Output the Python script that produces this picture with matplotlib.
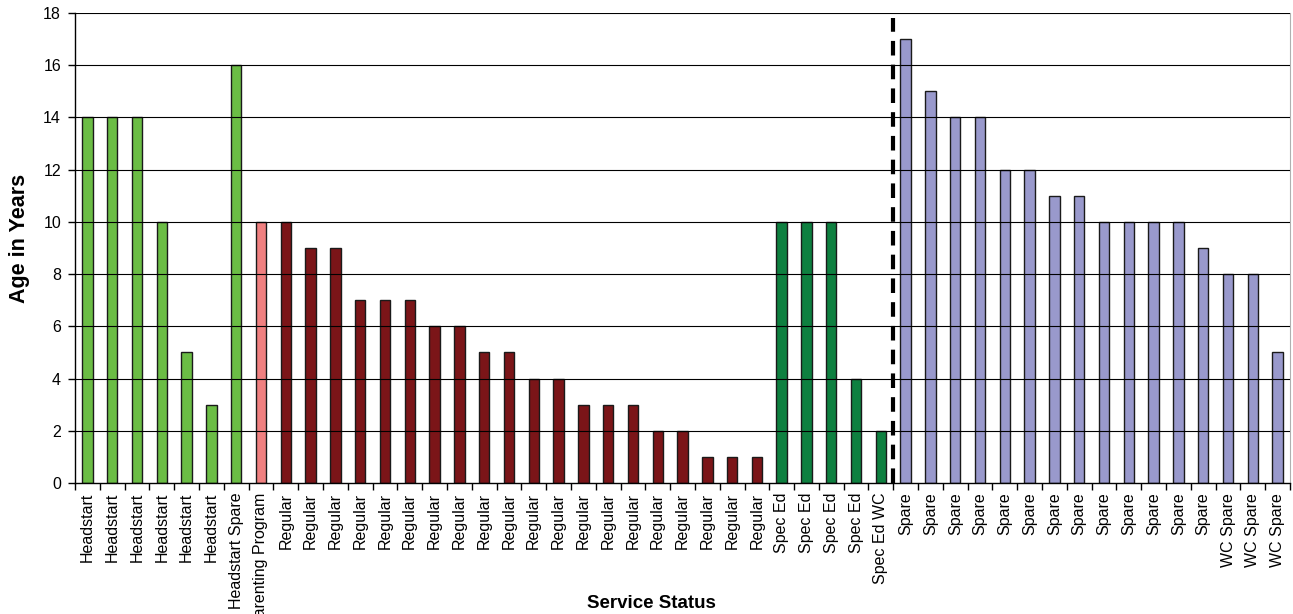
import matplotlib
import matplotlib.pyplot as plt
import numpy as np

matplotlib.use("Agg")

# Bus fleet ages by service status
categories = (
    ["Headstart"] * 6
    + ["Headstart Spare", "Parenting Program"]
    + ["Regular"] * 20
    + ["Spec Ed"] * 4
    + ["Spec Ed WC"]
    + ["Spare"] * 13
    + ["WC Spare"] * 3
)
ages = [
    14, 14, 14, 10, 5, 3,
    16, 10,
    10, 9, 9, 7, 7, 7, 6, 6, 5, 5, 4, 4, 3, 3, 3, 2, 2, 1, 1, 1,
    10, 10, 10, 4,
    2,
    17, 15, 14, 14, 12, 12, 11, 11, 10, 10, 10, 10, 9,
    8, 8, 5,
]
y_ticks = [0, 2, 4, 6, 8, 10, 12, 14, 16, 18]

group_colors = {
    "Headstart": "#6BBD45",
    "Headstart Spare": "#6BBD45",
    "Parenting Program": "#F08080",
    "Regular": "#7B1518",
    "Spec Ed": "#0E8040",
    "Spec Ed WC": "#0E8040",
    "Spare": "#9999CC",
    "WC Spare": "#9999CC",
}
colors = [group_colors[c] for c in categories]

narrow = ["Liberation Sans Narrow", "Liberation Sans", "DejaVu Sans"]
plt.rcParams["font.family"] = ["Liberation Sans", "DejaVu Sans"]

fig = plt.figure(figsize=(12.93, 6.14), dpi=100)
ax = fig.add_axes([0.058, 0.2134, 0.9397, 0.7654])

x = np.arange(len(ages))
ax.bar(x, ages, width=0.42, color=colors, edgecolor="#1a1a1a", linewidth=1.0, zorder=2)

# horizontal gridlines drawn across the bars, as in the source
for yv in y_ticks[1:]:
    ax.axhline(yv, color="black", linewidth=0.8, zorder=3)

# divider between in-service and spare vehicles
split = categories.index("Spare") - 0.5
ax.plot([split, split], [0, 17.8], color="black", linewidth=3, linestyle=(0, (3.5, 2.2)), zorder=4)

ax.set_xlim(-0.5, len(ages) - 0.5)
ax.set_ylim(0, 18)
ax.set_yticks(y_ticks)
ax.set_yticklabels([str(v) for v in y_ticks], family=narrow, fontsize=11.5)

ax.set_xticks(x)
ax.set_xticklabels(categories, rotation=90, family=narrow, fontsize=11.5, va="top")
ax.tick_params(axis="x", which="major", length=0, pad=7)
ax.set_xticks(np.arange(-0.5, len(ages), 1.0), minor=True)
ax.tick_params(axis="x", which="minor", length=5, width=1, direction="out")
ax.tick_params(axis="y", length=5, width=1, direction="out", pad=5)

ax.spines["top"].set_visible(False)
ax.spines["right"].set_color("#b0b0b0")
ax.spines["left"].set_linewidth(1)
ax.spines["bottom"].set_linewidth(1)

ax.set_ylabel("Age in Years", fontsize=15.5, fontweight="bold")
ax.yaxis.set_label_coords(-0.037, 0.52)
fig.text(0.5035, 0.004, "Service Status", fontsize=13.5, fontweight="bold", ha="center", va="bottom")

fig.savefig("out.png", dpi=100, facecolor="white")
